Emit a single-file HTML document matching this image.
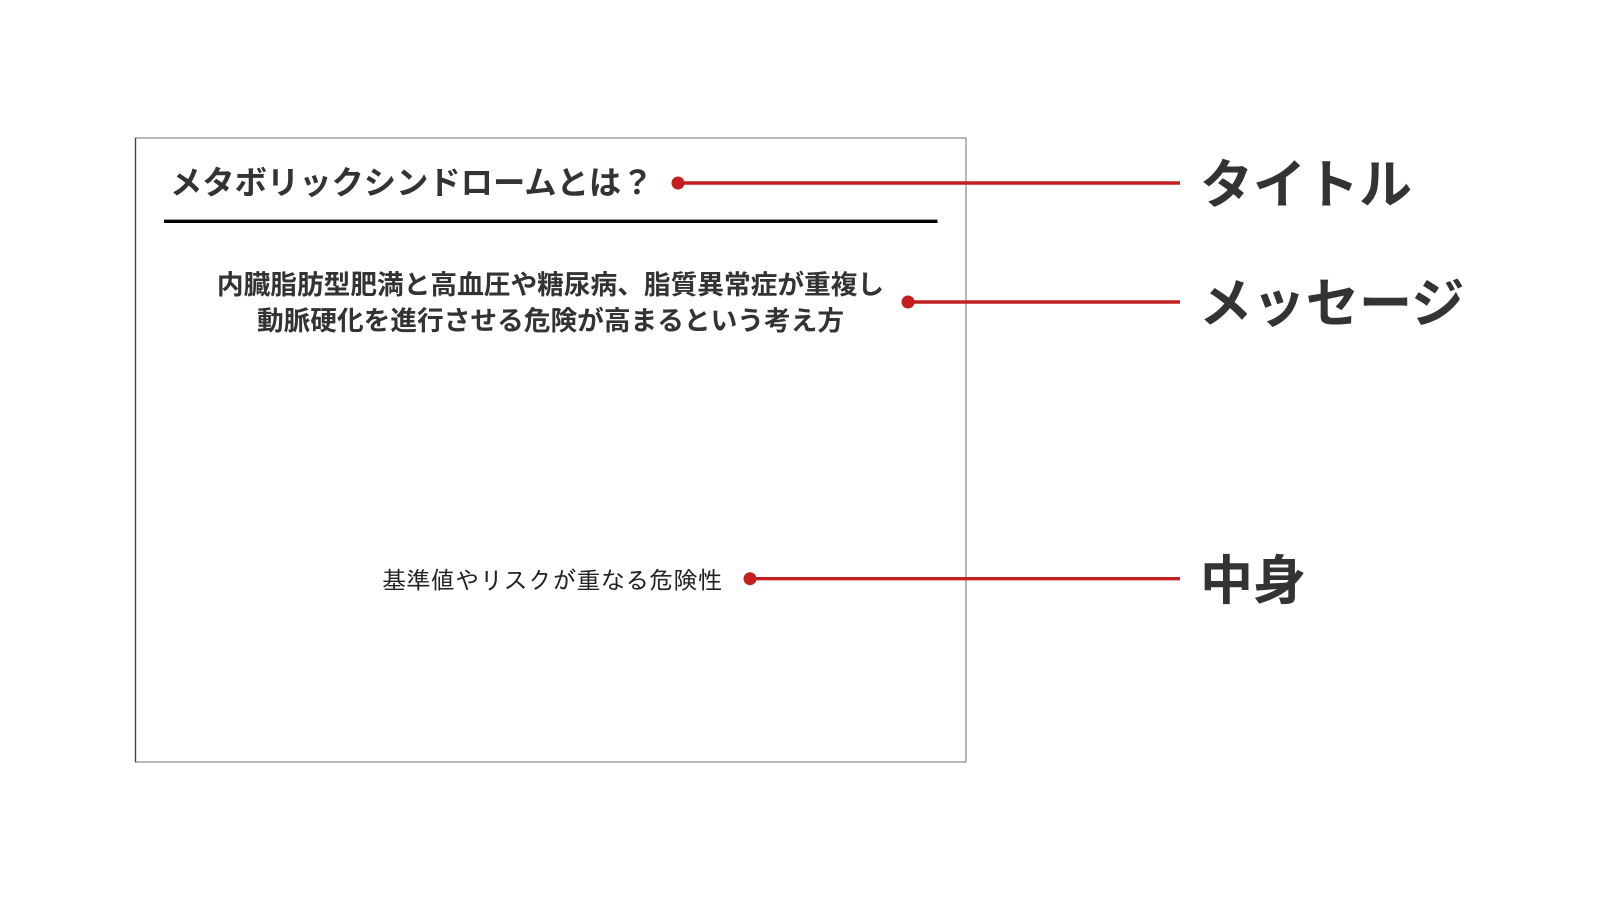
<!DOCTYPE html>
<html lang="ja">
<head>
<meta charset="utf-8">
<style>
html,body{margin:0;padding:0;background:#fff;width:1600px;height:900px;overflow:hidden}
.t{position:absolute;white-space:nowrap;font-family:"Liberation Sans","Noto Sans CJK JP",sans-serif;color:#333;line-height:1}
svg{position:absolute;left:0;top:0}
</style>
</head>
<body>
<svg width="1600" height="900" viewBox="0 0 1600 900">
<rect x="135.5" y="138" width="830.5" height="624" fill="#fff" stroke="#9a9a9a" stroke-width="1.4"/>
<line x1="135.5" y1="138" x2="135.5" y2="762" stroke="#444" stroke-width="1.2"/>
<line x1="164" y1="221.3" x2="937.5" y2="221.3" stroke="#000" stroke-width="3.4"/>
<g stroke="#c41f1f" stroke-width="3.4">
<line x1="678" y1="183" x2="1180" y2="183"/>
<line x1="908" y1="302" x2="1180" y2="302"/>
<line x1="750" y1="578.7" x2="1180" y2="578.7"/>
</g>
<g fill="#c41f1f">
<circle cx="678" cy="183" r="6.5"/>
<circle cx="908" cy="302" r="6.5"/>
<circle cx="750" cy="578.7" r="6.5"/>
</g>
</svg>
<div class="t" style="left:170px;top:166.5px;font-size:32.3px;font-weight:700">メタボリックシンドロームとは？</div>
<div class="t" style="left:215.5px;top:271.5px;width:670px;text-align:center;font-size:26.7px;font-weight:700">内臓脂肪型肥満と高血圧や糖尿病、脂質異常症が重複し</div>
<div class="t" style="left:215.5px;top:307.5px;width:670px;text-align:center;font-size:26.7px;font-weight:700">動脈硬化を進行させる危険が高まるという考え方</div>
<div class="t" style="left:382px;top:569.5px;font-size:24.3px;color:#222;font-family:'Liberation Sans','IPAGothic',sans-serif">基準値やリスクが重なる危険性</div>
<div class="t" style="left:1200px;top:158.5px;font-size:53px;font-weight:700">タイトル</div>
<div class="t" style="left:1199px;top:278px;font-size:53.3px;font-weight:700">メッセージ</div>
<div class="t" style="left:1200px;top:555px;font-size:53px;font-weight:700">中身</div>
</body>
</html>
